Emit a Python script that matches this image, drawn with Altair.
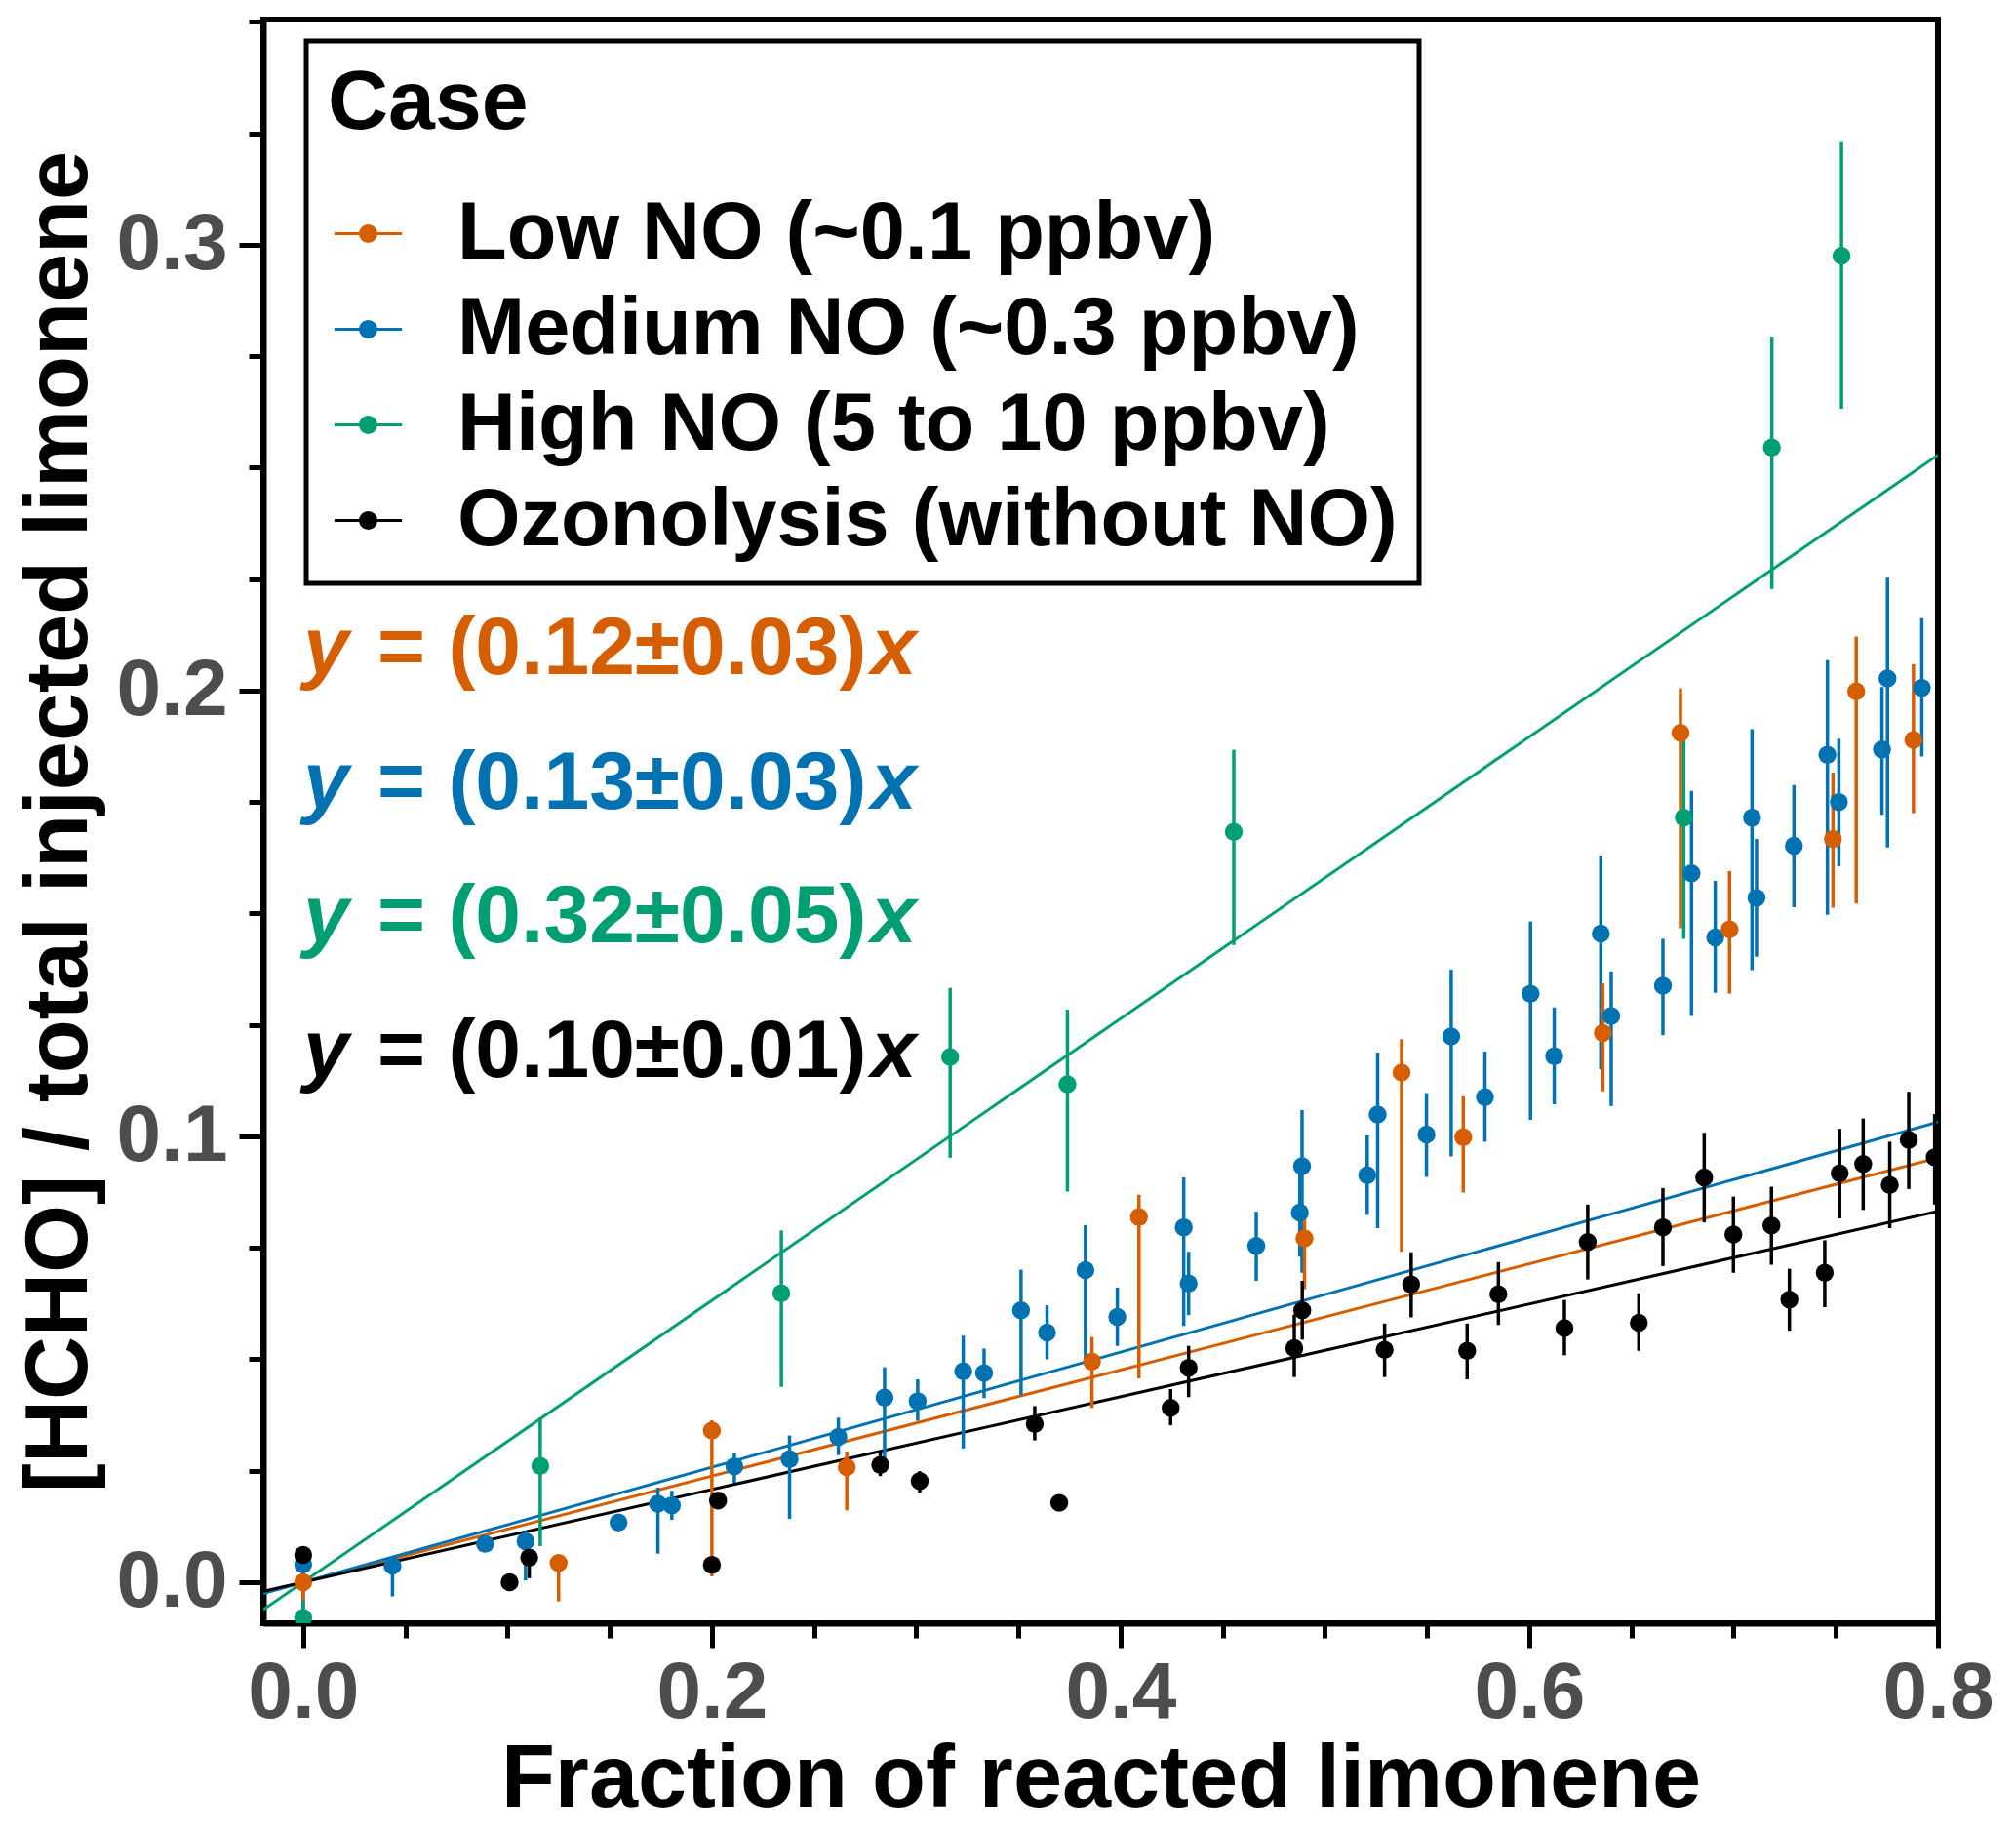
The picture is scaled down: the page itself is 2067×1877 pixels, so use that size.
import altair as alt
import pandas as pd

cases = ["Low NO (~0.1 ppbv)", "Medium NO (~0.3 ppbv)", "High NO (5 to 10 ppbv)", "Ozonolysis (without NO)"]
colors = ["#D55E00", "#0072B2", "#009E73", "#000000"]

# Low NO
low_x = [0.0, 0.125, 0.200, 0.266, 0.386, 0.409, 0.490, 0.5375, 0.5677, 0.636, 0.674, 0.698, 0.7486, 0.760, 0.788]
low_y = [0.000, 0.0043, 0.034, 0.0258, 0.0495, 0.0819, 0.0771, 0.1143, 0.0998, 0.1232, 0.1905, 0.1464, 0.1667, 0.1998, 0.1889]
low_lo = [-0.012, -0.0043, 0.0013, 0.0161, 0.0391, 0.0457, 0.0657, 0.0741, 0.0874, 0.1101, 0.1467, 0.132, 0.1513, 0.1522, 0.1725]
low_hi = [0.002, 0.0055, 0.0363, 0.0293, 0.055, 0.0869, 0.0844, 0.1218, 0.109, 0.1343, 0.2005, 0.1595, 0.1816, 0.2121, 0.2059]

# Medium NO
med_x = [0.0, 0.0437, 0.089, 0.1088, 0.1543, 0.1736, 0.1804, 0.211, 0.238, 0.2619, 0.2845, 0.3007, 0.323, 0.3332,
         0.3513, 0.364, 0.3828, 0.3984, 0.4309, 0.4333, 0.4664, 0.4877, 0.4888, 0.5207, 0.5258, 0.5497, 0.5618,
         0.5783, 0.6006, 0.6122, 0.635, 0.6401, 0.6654, 0.6794, 0.691, 0.709, 0.7112, 0.7295, 0.7459, 0.7515,
         0.7726, 0.7753, 0.7921]
med_y = [0.004, 0.0037, 0.0086, 0.0092, 0.0134, 0.0176, 0.0172, 0.026, 0.0276, 0.0326, 0.0414, 0.0406, 0.0473, 0.0469,
         0.061, 0.056, 0.070, 0.0595, 0.0796, 0.067, 0.0754, 0.0829, 0.0933, 0.0913, 0.1049, 0.1004, 0.1224,
         0.1088, 0.132, 0.118, 0.1455, 0.127, 0.1338, 0.159, 0.1446, 0.1715, 0.1535, 0.1652, 0.1856, 0.175,
         0.1868, 0.2027, 0.2006]
med_lo = [-0.006, -0.0032, 0.0076, 0.0004, 0.012, 0.0064, 0.014, 0.0223, 0.0142, 0.0285, 0.0256, 0.0362, 0.030, 0.0413,
          0.042, 0.050, 0.0497, 0.053, 0.0575, 0.0599, 0.0676, 0.073, 0.0694, 0.0824, 0.0794, 0.0909, 0.0955,
          0.0988, 0.1037, 0.1072, 0.115, 0.1068, 0.1227, 0.127, 0.1322, 0.1373, 0.1403, 0.1514, 0.1497, 0.1606,
          0.1721, 0.1648, 0.1852]
med_hi = [0.008, 0.0045, 0.0096, 0.0115, 0.0148, 0.0212, 0.0205, 0.029, 0.0329, 0.0369, 0.0482, 0.0455, 0.0553, 0.0524,
          0.0701, 0.0621, 0.0801, 0.0661, 0.0908, 0.0741, 0.0831, 0.092, 0.1059, 0.1002, 0.1188, 0.1097, 0.1374,
          0.119, 0.1482, 0.1289, 0.163, 0.137, 0.1443, 0.1775, 0.1573, 0.1913, 0.1667, 0.1788, 0.2068, 0.1892,
          0.2008, 0.2253, 0.2162]

# High NO
high_x = [0.0, 0.116, 0.234, 0.3166, 0.374, 0.4554, 0.6756, 0.7187, 0.7528]
high_y = [-0.008, 0.0261, 0.0648, 0.1178, 0.1117, 0.1683, 0.1715, 0.2545, 0.2975]
high_lo = [-0.012, 0.0081, 0.0438, 0.0952, 0.0876, 0.1429, 0.1443, 0.2228, 0.2632]
high_hi = [-0.004, 0.0369, 0.0789, 0.1333, 0.1284, 0.1867, 0.1916, 0.2794, 0.323]

# Ozonolysis
ozo_x = [0.0, 0.101, 0.1106, 0.200, 0.203, 0.2824, 0.3017, 0.358, 0.370, 0.4245, 0.4333, 0.485, 0.4889, 0.5292,
         0.5422, 0.5696, 0.5849, 0.6172, 0.6286, 0.6536, 0.6654, 0.6856, 0.6999, 0.7185, 0.7273, 0.7446, 0.7519,
         0.7634, 0.7764, 0.7857, 0.7984]
ozo_y = [0.0061, 0.0, 0.0055, 0.0039, 0.0183, 0.0263, 0.0227, 0.0355, 0.0178, 0.0391, 0.0481, 0.0525, 0.061, 0.0521,
         0.0668, 0.0519, 0.0646, 0.057, 0.0763, 0.0582, 0.0796, 0.0908, 0.078, 0.080, 0.0634, 0.0694, 0.0917,
         0.0938, 0.0891, 0.0992, 0.0953]
ozo_lo = [0.0045, -0.001, 0.0009, 0.002, 0.0165, 0.0238, 0.0201, 0.0318, 0.017, 0.0352, 0.0415, 0.046, 0.0544, 0.046,
          0.0594, 0.0455, 0.0577, 0.0509, 0.0679, 0.0519, 0.0709, 0.0807, 0.0694, 0.0712, 0.0564, 0.0617, 0.0816,
          0.0835, 0.0794, 0.0882, 0.0847]
ozo_hi = [0.0075, 0.001, 0.0073, 0.0055, 0.0198, 0.0289, 0.0249, 0.0395, 0.0186, 0.0433, 0.053, 0.060, 0.0676, 0.058,
          0.074, 0.058, 0.0718, 0.0633, 0.0847, 0.0648, 0.0884, 0.1008, 0.0865, 0.0887, 0.0703, 0.0767, 0.1017,
          0.104, 0.0988, 0.11, 0.105]

# fitted slopes (lines through the origin) and equation texts
fit_slopes = [0.119, 0.129, 0.316, 0.104]
fit_range = [-0.0195, 0.8]
eq_mid = ["= (0.12\u00b10.03)", "= (0.13\u00b10.03)", "= (0.32\u00b10.05)", "= (0.10\u00b10.01)"]

x_ticks = [0.0, 0.05, 0.1, 0.15, 0.2, 0.25, 0.3, 0.35, 0.4, 0.45, 0.5, 0.55, 0.6, 0.65, 0.7, 0.75, 0.8]
y_ticks = [0.0, 0.025, 0.05, 0.075, 0.1, 0.125, 0.15, 0.175, 0.2, 0.225, 0.25, 0.275, 0.3, 0.325, 0.35]

FONT = "Liberation Sans"
case_color = dict(zip(cases, colors))

series = [
    (cases[1], med_x, med_y, med_lo, med_hi),
    (cases[0], low_x, low_y, low_lo, low_hi),
    (cases[2], high_x, high_y, high_lo, high_hi),
    (cases[3], ozo_x, ozo_y, ozo_lo, ozo_hi),
]
rows = []
for case, xs, ys, los, his in series:
    for a, b, c, d in zip(xs, ys, los, his):
        rows.append({"case": case, "col": case_color[case], "x": a, "y": b, "lo": c, "hi": d})
df = pd.DataFrame(rows)

fit_rows = []
for case, k in zip(cases, fit_slopes):
    for xv in fit_range:
        fit_rows.append({"case": case, "col": case_color[case], "x": xv, "y": k * xv})
fits = pd.DataFrame(fit_rows)

scale = alt.Scale(domain=cases, range=colors)
xscale = alt.Scale(domain=[-0.0195, 0.8], nice=False, zero=False)
yscale = alt.Scale(domain=[-0.0092, 0.3505], nice=False, zero=False)

x_major = "abs(datum.value*5 - round(datum.value*5)) < 0.001"
y_major = "abs(datum.value*10 - round(datum.value*10)) < 0.001"

x_axis = alt.Axis(
    values=x_ticks, labelExpr=f"{x_major} ? format(datum.value, '.1f') : ''",
    tickSize={"condition": {"test": x_major, "value": 25}, "value": 15},
    tickWidth=5, tickColor="black", domainWidth=6, domainColor="black",
    labelFont=FONT, labelFontSize=82, labelFontWeight="bold", labelColor="#4d4d4d",
    labelPadding=6, labelOverlap=False, labelFlush=False, grid=False,
    title="Fraction of reacted limonene", titleFont=FONT, titleFontSize=90,
    titleFontWeight="bold", titleColor="black", titlePadding=4,
)
y_axis = alt.Axis(
    values=y_ticks, labelExpr=f"{y_major} ? format(datum.value, '.1f') : ''",
    tickSize={"condition": {"test": y_major, "value": 25}, "value": 15},
    tickWidth=5, tickColor="black", domainWidth=6, domainColor="black",
    labelFont=FONT, labelFontSize=82, labelFontWeight="bold", labelColor="#4d4d4d",
    labelPadding=12, labelOverlap=False, labelFlush=False, grid=False,
    title="[HCHO] / total injected limonene", titleFont=FONT, titleFontSize=90,
    titleFontWeight="bold", titleColor="black", titlePadding=12,
)

legend = alt.Legend(
    title="Case", orient="none", legendX=44, legendY=22,
    symbolType="M-1,0H1M0.23,0A0.23,0.23,0,1,1,-0.23,0A0.23,0.23,0,1,1,0.23,0Z",
    symbolSize=4800, symbolStrokeWidth=3,
    labelFont=FONT, labelFontSize=83, labelFontWeight="bold", labelColor="black",
    labelLimit=2000, labelOffset=50,
    titleFont=FONT, titleFontSize=86, titleFontWeight="bold", titleColor="black",
    titleLimit=2000, titlePadding=48, rowPadding=14, padding=22,
    strokeColor="black", fillColor="white",
)

lines = alt.Chart(fits).mark_line(strokeWidth=3, clip=True).encode(
    x=alt.X("x:Q", scale=xscale, axis=x_axis),
    y=alt.Y("y:Q", scale=yscale, axis=y_axis),
    color=alt.Color("col:N", scale=None),
    detail="case:N",
)

bars = alt.Chart(df).mark_rule(strokeWidth=3.5, clip=True).encode(
    x=alt.X("x:Q", scale=xscale),
    y=alt.Y("lo:Q", scale=yscale),
    y2="hi:Q",
    color=alt.Color("col:N", scale=None),
)

points = alt.Chart(df).mark_circle(size=340, opacity=1, strokeWidth=0, clip=True).encode(
    x=alt.X("x:Q", scale=xscale),
    y=alt.Y("y:Q", scale=yscale),
    fill=alt.Fill("case:N", scale=scale, legend=legend),
    stroke=alt.Stroke("case:N", scale=scale, legend=legend),
)

layers = [lines, bars, points]
one = pd.DataFrame({"k": [0]})
for i, (mid, col) in enumerate(zip(eq_mid, colors)):
    base_y = 671 + i * 137.5
    for txt, xpos, italic in [("y", 41, True), (mid, 117, False), ("x", 623, True)]:
        layers.append(
            alt.Chart(one).mark_text(
                text=txt, align="left", baseline="alphabetic", font=FONT, fontSize=84,
                fontWeight="bold", fontStyle="italic" if italic else "normal", color=col,
            ).encode(x=alt.value(xpos), y=alt.value(base_y))
        )

chart = alt.layer(*layers).properties(
    width=1717, height=1644,
    autosize=alt.AutoSizeParams(type="none"),
    padding={"left": 262, "top": 12, "right": 72, "bottom": 205},
).configure_view(
    stroke="black", strokeWidth=6
).configure_legend(
    strokeWidth=5
)

chart.save("out.html", embed_options={"renderer": "svg", "actions": False})
